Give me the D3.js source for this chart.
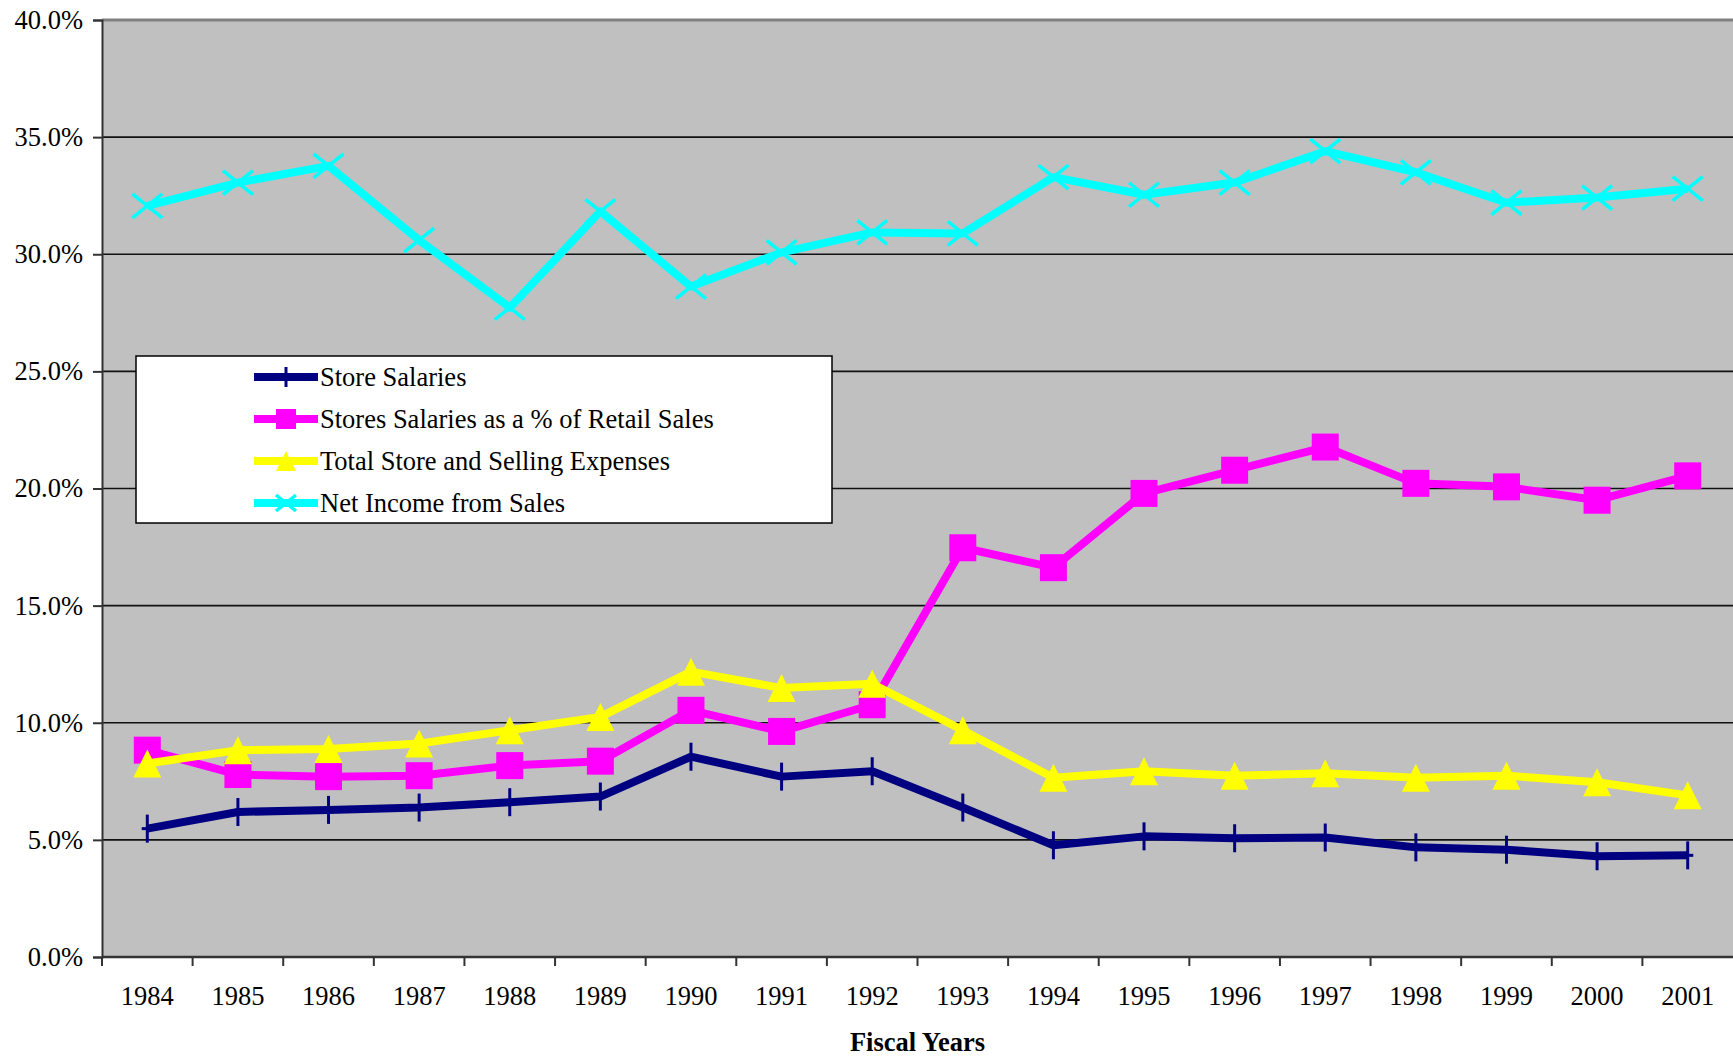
<!DOCTYPE html>
<html>
<head>
<meta charset="utf-8">
<script src="https://cdnjs.cloudflare.com/ajax/libs/d3/7.8.5/d3.min.js"></script>
<style>
	body { margin: 0; background: #fff; }
	svg { display: block; }
	text { font-family: "Liberation Serif", "Times New Roman", serif; fill: #000; }
</style>
</head>
<body>
<svg id="chart" width="1733" height="1057"></svg>
<script>
// fiscal years on the x axis
var years = ["1984","1985","1986","1987","1988","1989","1990","1991","1992",
	"1993","1994","1995","1996","1997","1998","1999","2000","2001"];

// values in percent
var storeSalaries = [5.48, 6.19, 6.28, 6.38, 6.61, 6.85, 8.55, 7.70, 7.93,
	6.38, 4.77, 5.15, 5.07, 5.10, 4.68, 4.58, 4.30, 4.34];
var salariesPctRetail = [8.83, 7.79, 7.70, 7.74, 8.17, 8.36, 10.53, 9.63, 10.77,
	17.47, 16.62, 19.79, 20.78, 21.77, 20.22, 20.07, 19.50, 20.54];
var totalStoreSelling = [8.26, 8.83, 8.88, 9.11, 9.68, 10.25, 12.18, 11.48, 11.66,
	9.68, 7.65, 7.93, 7.74, 7.84, 7.65, 7.74, 7.46, 6.90];
var netIncomeSales = [32.07, 33.06, 33.77, 30.60, 27.72, 31.83, 28.62, 30.08, 30.93,
	30.89, 33.29, 32.54, 33.06, 34.40, 33.50, 32.20, 32.42, 32.80];

var yTicks = [0, 5, 10, 15, 20, 25, 30, 35, 40];

var seriesNames = ["Store Salaries", "Stores Salaries as a % of Retail Sales",
	"Total Store and Selling Expenses", "Net Income from Sales"];

var series = [
	{name: seriesNames[0], values: storeSalaries, color: "#000080", marker: "plus"},
	{name: seriesNames[1], values: salariesPctRetail, color: "#ff00ff", marker: "square"},
	{name: seriesNames[2], values: totalStoreSelling, color: "#ffff00", marker: "triangle"},
	{name: seriesNames[3], values: netIncomeSales, color: "#00ffff", marker: "cross"}
];

var svg = d3.select("#chart");

//plot edges (window.top is reserved, so no plain "top")
var plotLeft = 102, plotRight = 1733, plotTop = 20, plotBottom = 957;

var x = d3.scaleBand()
	.domain(years)
	.range([plotLeft, plotRight])
	.padding(0);

var y = d3.scaleLinear()
	.domain([0, 40])
	.range([plotBottom, plotTop]);

//plot background
svg.append("rect")
	.attr("x", plotLeft)
	.attr("y", plotTop)
	.attr("width", plotRight - plotLeft)
	.attr("height", plotBottom - plotTop)
	.attr("fill", "#c0c0c0");

//top border of plot
svg.append("line")
	.attr("x1", plotLeft).attr("x2", plotRight)
	.attr("y1", y(40)).attr("y2", y(40))
	.style("stroke", "#808080")
	.style("stroke-width", 3);

//gridlines
svg.append("g")
	.selectAll("line")
	.data(yTicks.filter(function(d){ return d > 0 && d < 40; }))
	.enter()
	.append("line")
	.attr("x1", plotLeft)
	.attr("x2", plotRight)
	.attr("y1", function(d){ return y(d); })
	.attr("y2", function(d){ return y(d); })
	.style("stroke", "#111")
	.style("stroke-width", 1.6);

//y axis
var yAxis = d3.axisLeft(y)
	.tickValues(yTicks)
	.tickSize(9)
	.tickPadding(10)
	.tickFormat(function(d){ return d3.format(".1f")(d) + "%"; });

var yAxisG = svg.append("g")
	.attr("transform", "translate(" + plotLeft + ",0)")
	.call(yAxis);
yAxisG.select(".domain").style("stroke", "#333").style("stroke-width", 2);
yAxisG.selectAll(".tick line").style("stroke", "#333").style("stroke-width", 2);
yAxisG.selectAll("text")
	.style("font-family", "'Liberation Serif', serif")
	.style("font-size", "26.5px")
	.attr("fill", "#000");

//x axis, labels only
var xAxis = d3.axisBottom(x).tickSize(0).tickPadding(29);
var xAxisG = svg.append("g")
	.attr("transform", "translate(0," + plotBottom + ")")
	.call(xAxis);
xAxisG.select(".domain").remove();
xAxisG.selectAll("text")
	.style("font-family", "'Liberation Serif', serif")
	.style("font-size", "26.5px")
	.attr("fill", "#000");

//x axis line and ticks between categories
svg.append("line")
	.attr("x1", plotLeft).attr("x2", plotRight)
	.attr("y1", plotBottom).attr("y2", plotBottom)
	.style("stroke", "#333")
	.style("stroke-width", 2.5);

svg.append("g")
	.selectAll("line")
	.data(years)
	.enter()
	.append("line")
	.attr("x1", function(d){ return x(d); })
	.attr("x2", function(d){ return x(d); })
	.attr("y1", plotBottom)
	.attr("y2", plotBottom + 9)
	.style("stroke", "#333")
	.style("stroke-width", 2);

//axis title
svg.append("text")
	.attr("x", (plotLeft + plotRight) / 2)
	.attr("y", 1051)
	.attr("text-anchor", "middle")
	.style("font-size", "26.5px")
	.style("font-weight", "bold")
	.text("Fiscal Years");

function drawMarker(g, type, color, size){
	var h = size / 2;
	if (type == "plus") {
		g.append("line")
			.attr("x1", 0).attr("x2", 0)
			.attr("y1", -h).attr("y2", h)
			.style("stroke", color)
			.style("stroke-width", 3);
		g.append("line")
			.attr("x1", -h * 0.4).attr("x2", h * 0.4)
			.attr("y1", 0).attr("y2", 0)
			.style("stroke", color)
			.style("stroke-width", 3);
	} else if (type == "square") {
		g.append("rect")
			.attr("x", -h).attr("y", -h)
			.attr("width", size).attr("height", size)
			.attr("fill", color);
	} else if (type == "triangle") {
		g.append("path")
			.attr("d", "M0," + (-h) + "L" + h + "," + h + "L" + (-h) + "," + h + "Z")
			.attr("fill", color);
	} else if (type == "cross") {
		g.append("path")
			.attr("d", "M" + (-h) + "," + (-h * 0.8) + "L" + h + "," + (h * 0.8) +
				"M" + (-h) + "," + (h * 0.8) + "L" + h + "," + (-h * 0.8))
			.style("stroke", color)
			.style("stroke-width", 3.5)
			.attr("fill", "none");
	}
}

var line = d3.line()
	.x(function(d, i){ return x(years[i]) + x.bandwidth() / 2; })
	.y(function(d){ return y(d); });

var markerSize = {plus: 28, square: 27, triangle: 28, cross: 30};

series.forEach(function(s){
	var g = svg.append("g");
	g.append("path")
		.datum(s.values)
		.attr("d", line)
		.attr("fill", "none")
		.style("stroke", s.color)
		.style("stroke-width", 8)
		.style("stroke-linejoin", "round");

	g.selectAll("g.marker")
		.data(s.values)
		.enter()
		.append("g")
		.attr("class", "marker")
		.attr("transform", function(d, i){
			return "translate(" + (x(years[i]) + x.bandwidth() / 2) + "," + y(d) + ")";
		})
		.each(function(){
			drawMarker(d3.select(this), s.marker, s.color, markerSize[s.marker]);
		});
});

//legend
var legendGroup = svg.append("g");
legendGroup.append("rect")
	.attr("x", 136)
	.attr("y", 356)
	.attr("width", 696)
	.attr("height", 167)
	.attr("fill", "#fff")
	.style("stroke", "#000")
	.style("stroke-width", 1.5);

var legendRow = legendGroup.selectAll("g.row")
	.data(series)
	.enter()
	.append("g")
	.attr("class", "row")
	.attr("transform", function(d, i){ return "translate(0," + (377 + i * 42) + ")"; });

legendRow.append("line")
	.attr("x1", 254)
	.attr("x2", 318)
	.attr("y1", 0)
	.attr("y2", 0)
	.style("stroke", function(d){ return d.color; })
	.style("stroke-width", 8);

legendRow.append("g")
	.attr("transform", "translate(286,0)")
	.each(function(d){
		drawMarker(d3.select(this), d.marker, d.color, 20);
	});

legendRow.append("text")
	.attr("x", 320)
	.attr("y", 0)
	.attr("dy", "0.35em")
	.style("font-size", "26.5px")
	.text(function(d){ return d.name; });
</script>
</body>
</html>
